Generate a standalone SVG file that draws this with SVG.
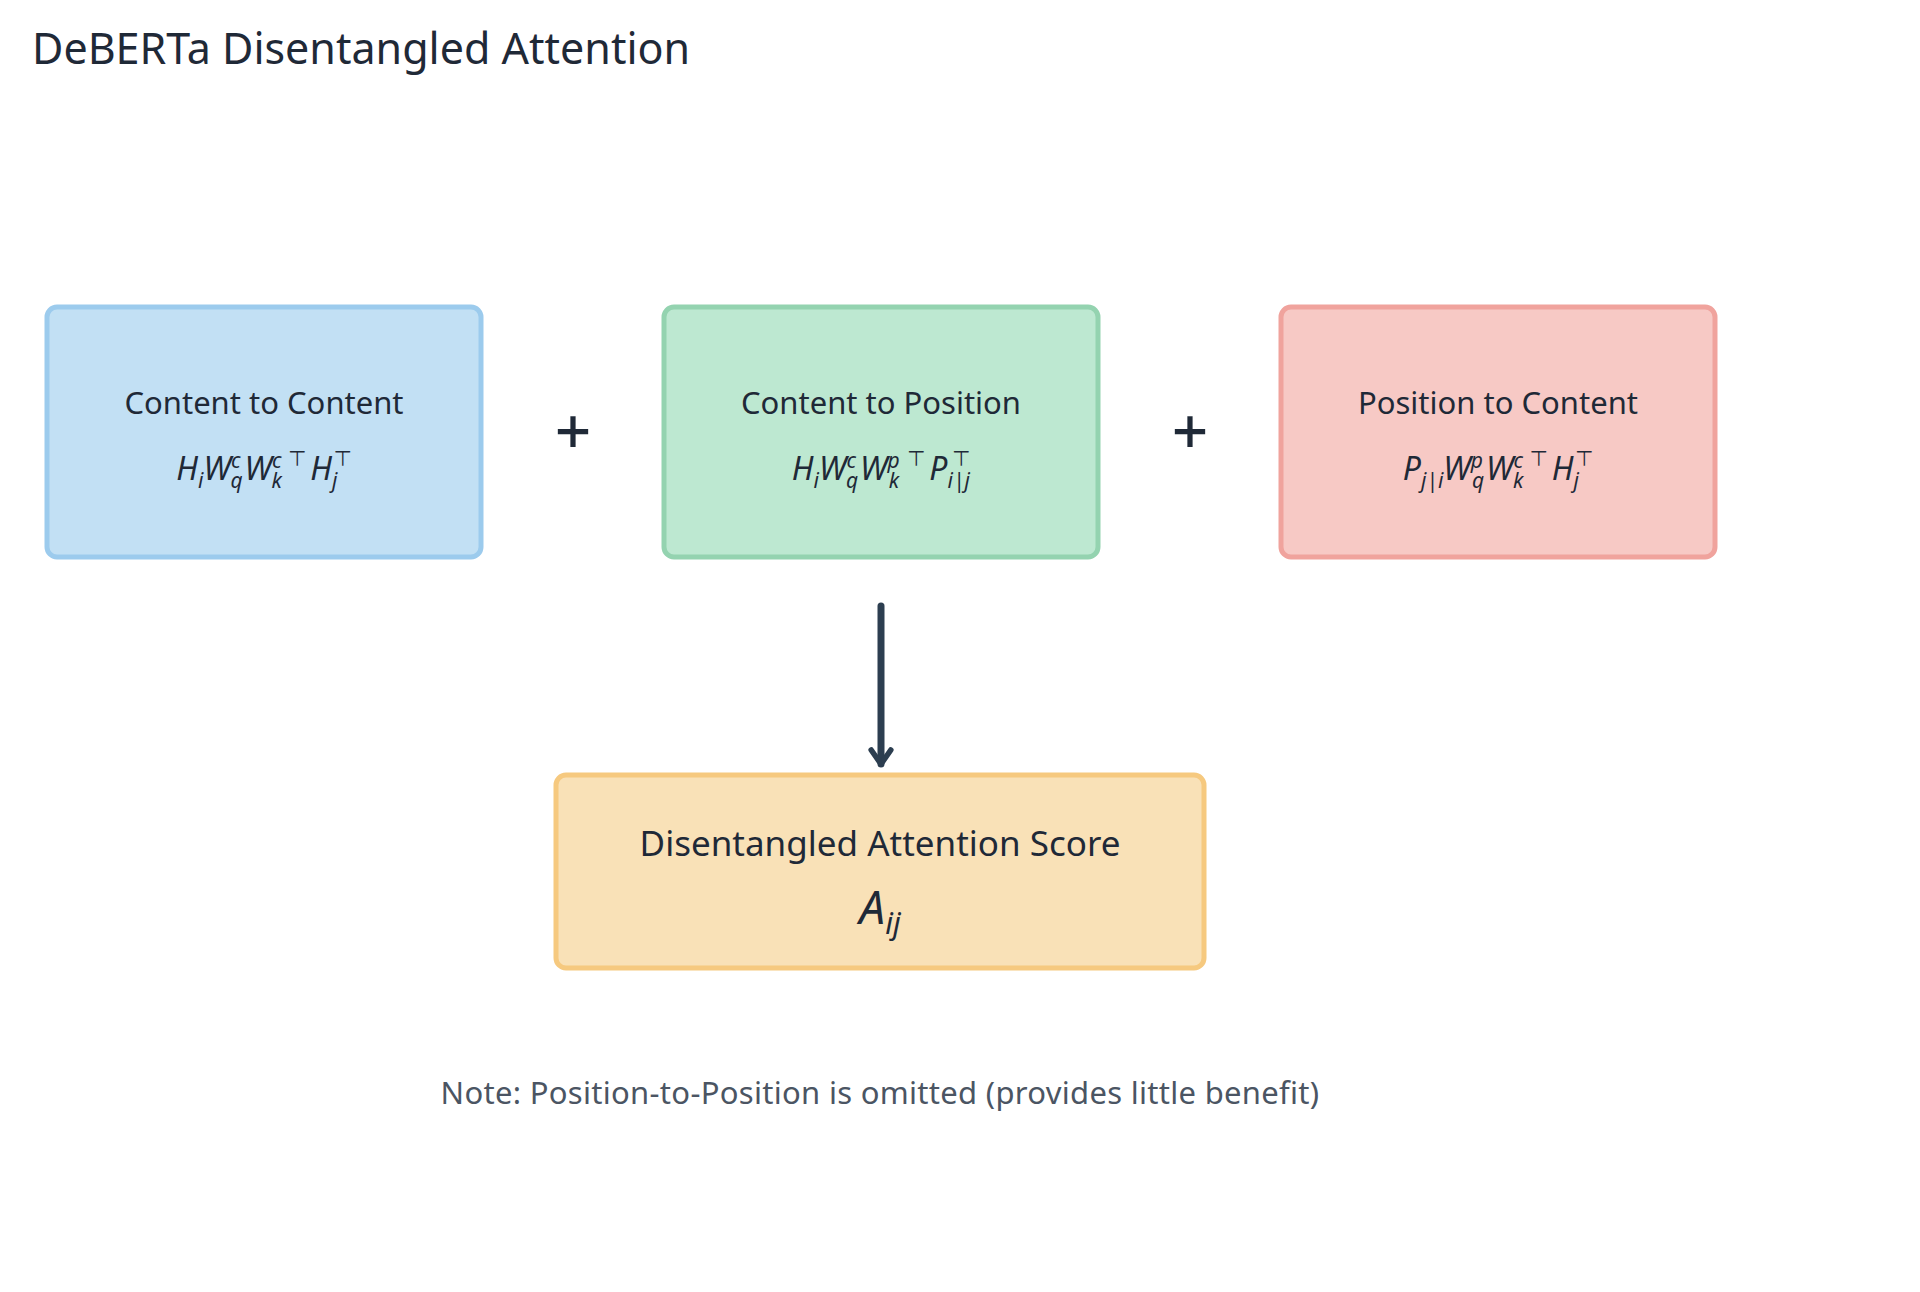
<svg xmlns="http://www.w3.org/2000/svg" width="1920" height="1292" viewBox="0 0 1920 1292">
<style>
.t{font-family:"Noto Sans","DejaVu Sans",sans-serif;fill:#1f2937}
.lbl{font-size:31px;text-anchor:middle}
.f{font-size:32px;font-style:italic;text-anchor:middle}
.s{font-size:21px}
.n{font-style:normal}
.plus{font-size:64px;text-anchor:middle;font-weight:500}
</style>
<defs>
<marker id="ah" viewBox="0 0 10 10" refX="8" refY="5" markerWidth="4" markerHeight="4" orient="auto" markerUnits="strokeWidth">
<path d="M3,1.5 L8,5 L3,8.5" fill="none" stroke="#2c3e50" stroke-width="2" stroke-linejoin="round" stroke-linecap="round"/>
</marker>
</defs>
<rect width="1920" height="1292" fill="#ffffff"/>
<text class="t" x="32" y="64" font-size="43">DeBERTa Disentangled Attention</text>

<g id="c2c">
<rect x="47" y="307" width="434" height="250" rx="10" fill="#c2e0f4" stroke="#9ccbed" stroke-width="5"/>
<text class="t lbl" x="264" y="414">Content to Content</text>
<text class="t f" x="264" y="480">H<tspan class="s" dy="8">i</tspan><tspan dy="-8">W</tspan><tspan class="s" dy="-12">c</tspan><tspan class="s" dx="-10" dy="20">q</tspan><tspan dx="2" dy="-8">W</tspan><tspan class="s" dy="-12">c</tspan><tspan class="s" dx="-10" dy="20">k</tspan><tspan class="s n" dx="6" dy="-22">⊤</tspan><tspan dx="4" dy="14">H</tspan><tspan class="s" dy="8">j</tspan><tspan class="s n" dx="-4" dy="-22">⊤</tspan></text>
</g>

<text class="t plus" x="573" y="454">+</text>

<g id="c2p">
<rect x="664" y="307" width="434" height="250" rx="10" fill="#bde8d1" stroke="#94d3b0" stroke-width="5"/>
<text class="t lbl" x="881" y="414">Content to Position</text>
<text class="t f" x="881" y="480">H<tspan class="s" dy="8">i</tspan><tspan dy="-8">W</tspan><tspan class="s" dy="-12">c</tspan><tspan class="s" dx="-10" dy="20">q</tspan><tspan dx="2" dy="-8">W</tspan><tspan class="s" dy="-12">p</tspan><tspan class="s" dx="-11" dy="20">k</tspan><tspan class="s n" dx="8" dy="-22">⊤</tspan><tspan dx="4" dy="14">P</tspan><tspan class="s" dy="8">i|j</tspan><tspan class="s n" dx="-18" dy="-22">⊤</tspan></text>
</g>

<text class="t plus" x="1190" y="454">+</text>

<g id="p2c">
<rect x="1281" y="307" width="434" height="250" rx="10" fill="#f7c9c5" stroke="#f0a39d" stroke-width="5"/>
<text class="t lbl" x="1498" y="414">Position to Content</text>
<text class="t f" x="1498" y="480">P<tspan class="s" dy="8">j|i</tspan><tspan dy="-8">W</tspan><tspan class="s" dy="-12">p</tspan><tspan class="s" dx="-11" dy="20">q</tspan><tspan dx="2" dy="-8">W</tspan><tspan class="s" dy="-12">c</tspan><tspan class="s" dx="-10" dy="20">k</tspan><tspan class="s n" dx="6" dy="-22">⊤</tspan><tspan dx="4" dy="14">H</tspan><tspan class="s" dy="8">j</tspan><tspan class="s n" dx="-4" dy="-22">⊤</tspan></text>
</g>

<g id="connectors">
<line x1="881" y1="606" x2="881" y2="764" stroke="#2c3e50" stroke-width="7" stroke-linecap="round" marker-end="url(#ah)"/>
</g>

<g id="score">
<rect x="556" y="775" width="648" height="193" rx="10" fill="#f9e1b7" stroke="#f6c97f" stroke-width="5"/>
<text class="t" x="880" y="856" font-size="35" text-anchor="middle">Disentangled Attention Score</text>
<text class="t" x="880" y="924" font-size="46" font-style="italic" text-anchor="middle">A<tspan font-size="30" dy="10">ij</tspan></text>
</g>

<text x="880" y="1104" font-family="Noto Sans, DejaVu Sans, sans-serif" font-size="31" letter-spacing="0.3" fill="#4b5563" text-anchor="middle">Note: Position-to-Position is omitted (provides little benefit)</text>
</svg>
